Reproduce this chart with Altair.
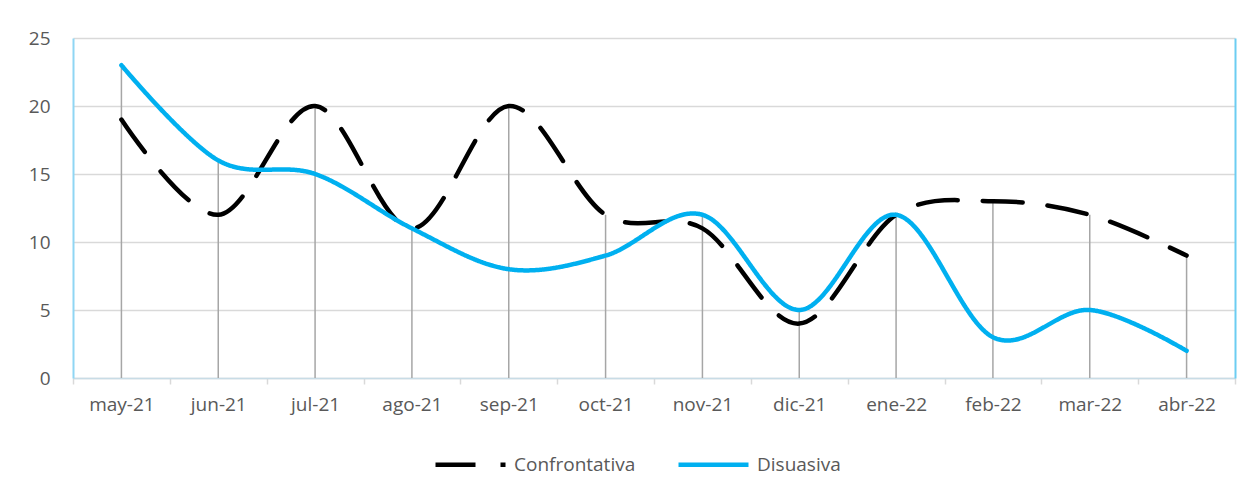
import altair as alt
import pandas as pd

months = ["may-21", "jun-21", "jul-21", "ago-21", "sep-21", "oct-21",
          "nov-21", "dic-21", "ene-22", "feb-22", "mar-22", "abr-22"]
confrontativa = [19, 12, 20, 11, 20, 12, 11, 4, 12, 13, 12, 9]
disuasiva = [23, 16, 15, 11, 8, 9, 12, 5, 12, 3, 5, 2]
series = ["Confrontativa", "Disuasiva"]

long_df = pd.DataFrame({
    "mes": months * 2,
    "valor": confrontativa + disuasiva,
    "serie": [series[0]] * len(months) + [series[1]] * len(months),
})
drop_df = pd.DataFrame({
    "mes": months,
    "top": [max(a, b) for a, b in zip(confrontativa, disuasiva)],
    "base": [0] * len(months),
})

FONT = "Open Sans"
FS = 19

xenc = alt.X("mes:N", sort=months, title=None,
             scale=alt.Scale(type="band", paddingInner=0, paddingOuter=0),
             axis=alt.Axis(labelAngle=0, labelFontSize=FS, labelColor="#595959",
                           labelFont=FONT, labelPadding=11,
                           tickBand="extent", ticks=True, tickSize=6,
                           tickColor="#D9D9D9", tickWidth=1.5,
                           domainColor="#C8DCE6", domainWidth=1.5, grid=False))

yscale = alt.Scale(domain=[0, 25], nice=False)

drops = alt.Chart(drop_df).mark_rule(color="#A6A6A6", strokeWidth=1.5).encode(
    x=xenc,
    y=alt.Y("top:Q", scale=yscale, title=None,
            axis=alt.Axis(orient="right", labels=False, ticks=False, grid=False,
                          domainColor="#6CCDF2", domainWidth=2)),
    y2="base:Q",
)

lines = alt.Chart(long_df).mark_line(interpolate="cardinal", strokeWidth=4.5,
                                     strokeCap="round").encode(
    x=xenc,
    y=alt.Y("valor:Q", title=None, scale=yscale,
            axis=alt.Axis(values=[0, 5, 10, 15, 20, 25], labelFontSize=FS,
                          labelColor="#595959", labelFont=FONT,
                          labelPadding=23, ticks=False, grid=True,
                          gridColor="#D9D9D9", gridWidth=1.5,
                          domainColor="#8FD6F4", domainWidth=2)),
    color=alt.Color("serie:N", sort=series,
                    scale=alt.Scale(domain=series, range=["#000000", "#00B0F0"]),
                    legend=alt.Legend(title=None, orient="none", direction="horizontal",
                                      legendX=360, legendY=389,
                                      symbolType="stroke", symbolSize=4900,
                                      symbolStrokeWidth=4.5, labelFontSize=FS,
                                      labelColor="#595959", labelFont=FONT,
                                      labelOffset=6, columnPadding=33)),
    strokeDash=alt.StrokeDash("serie:N", sort=series,
                              scale=alt.Scale(domain=series, range=[[40, 25], [1, 0]]),
                              legend=None),
    detail="serie:N",
)

chart = alt.layer(drops, lines).resolve_axis(y="independent").properties(
    width=1162, height=340,
    autosize=alt.AutoSizeParams(type="none"),
    padding={"left": 65, "top": 30, "right": 10, "bottom": 107},
).configure_view(stroke=None)

chart.save("out.html", embed_options={"renderer": "svg", "actions": False})
